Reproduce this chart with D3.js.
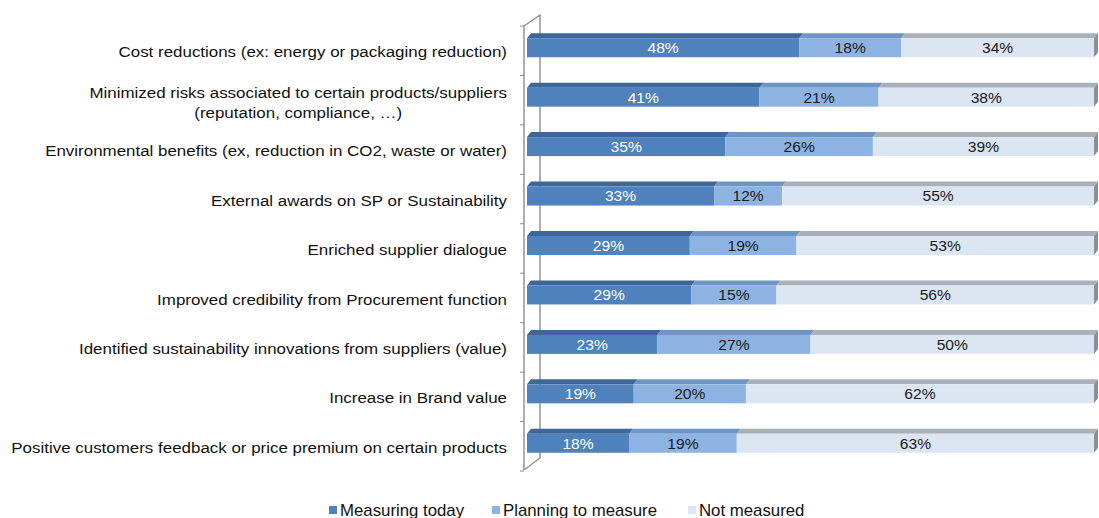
<!DOCTYPE html>
<html>
<head>
<meta charset="utf-8">
<script src="https://cdn.jsdelivr.net/npm/d3@7"></script>
<style>
  html, body { margin: 0; padding: 0; background: #fff; }
  svg { display: block; font-family: "Liberation Sans", Arial, sans-serif; }
</style>
</head>
<body>
<svg id="chart" width="1099" height="518"></svg>
<script>
// Survey results: how each benefit of sustainable procurement is measured
const categories = [
  "Cost reductions (ex: energy or packaging reduction)",
  "Minimized risks associated to certain products/suppliers\n(reputation, compliance, \u2026)",
  "Environmental benefits (ex, reduction in CO2, waste or water)",
  "External awards on SP or Sustainability",
  "Enriched supplier dialogue",
  "Improved credibility from Procurement function",
  "Identified sustainability innovations from suppliers (value)",
  "Increase in Brand value",
  "Positive customers feedback or price premium on certain products"
];
const seriesNames = ["Measuring today", "Planning to measure", "Not measured"];
const measuringToday    = [48, 41, 35, 33, 29, 29, 23, 19, 18];
const planningToMeasure = [18, 21, 26, 12, 19, 15, 27, 20, 19];
const notMeasured       = [34, 38, 39, 55, 53, 56, 50, 62, 63];

const frontColors = ["#4f81bd", "#8db3e2", "#dce6f2"];
const topColors   = ["#3d6699", "#6f95c4", "#a9b0b8"];
const textColors  = ["#ffffff", "#1a1a1a", "#1a1a1a"];
const sideColor   = "#8a9098";
const wallColor   = "#8c8c8c";

const svg = d3.select("#chart");

// 100% stacked layout (rows are normalised by their own total)
const rows = categories.map((c, i) => {
  const vals = [measuringToday[i], planningToMeasure[i], notMeasured[i]];
  const total = d3.sum(vals);
  let acc = 0;
  return {
    cat: c,
    segs: vals.map((v, k) => {
      const s = { k, v, x0: acc / total, x1: (acc + v) / total };
      acc += v;
      return s;
    })
  };
});

const x = d3.scaleLinear().domain([0, 1]).range([527, 1094]);
const y = d3.scaleBand().domain(categories).range([25, 470]);

const depthX = 4, depthY = 5, barH = 19, barShift = -2;
const wallFront = 524, wallBack = 540;

// Left wall of the 3D plot area
const wall = svg.append("g").attr("stroke", wallColor).attr("stroke-width", 1.4).attr("fill", "none");
wall.append("path").attr("d", `M${wallFront},470 L${wallFront},26 L${wallBack},15 L${wallBack},458 L${wallFront},470`);
const tickYs = d3.range(categories.length + 1).map(i => y.range()[0] + i * y.step());
wall.selectAll("line.tick").data(tickYs).join("line")
  .attr("class", "tick")
  .attr("x1", wallFront - 4).attr("x2", wallFront)
  .attr("y1", d => d + 1).attr("y2", d => d + 1)
  .attr("stroke-width", 1);

// Bars
const barG = svg.append("g");
rows.forEach(r => {
  const cy = y(r.cat) + y.bandwidth() / 2 + barShift;
  const top = cy - barH / 2, bot = cy + barH / 2;
  const g = barG.append("g");
  g.selectAll("path.top").data(r.segs).join("path")
    .attr("class", "top")
    .attr("fill", d => topColors[d.k])
    .attr("d", d => `M${x(d.x0)},${top} L${x(d.x0) + depthX},${top - depthY} L${x(d.x1) + depthX},${top - depthY} L${x(d.x1)},${top} Z`);
  g.selectAll("rect.front").data(r.segs).join("rect")
    .attr("class", "front")
    .attr("x", d => x(d.x0)).attr("y", top)
    .attr("width", d => x(d.x1) - x(d.x0)).attr("height", barH)
    .attr("fill", d => frontColors[d.k]);
  const xr = x(1);
  g.append("path")
    .attr("fill", sideColor)
    .attr("d", `M${xr},${top} L${xr + depthX},${top - depthY} L${xr + depthX},${bot - depthY} L${xr},${bot} Z`);
  g.selectAll("text.val").data(r.segs).join("text")
    .attr("class", "val")
    .attr("transform", d => `translate(${(x(d.x0) + x(d.x1)) / 2},${cy}) scale(1.04,1)`)
    .attr("text-anchor", "middle")
    .attr("dy", "0.36em")
    .attr("font-size", 15)
    .attr("fill", d => textColors[d.k])
    .text(d => d.v + "%");
});

// Category labels
const labelX = 507, labelScale = 1.093;
const labelG = svg.append("g").attr("font-size", 15.5).attr("fill", "#111");
categories.forEach(c => {
  const cy = y(c) + y.bandwidth() / 2 + 2;
  const lines = c.split("\n");
  if (lines.length === 1) {
    labelG.append("text")
      .attr("transform", `translate(${labelX},${cy}) scale(${labelScale},1)`)
      .attr("text-anchor", "end").attr("dy", "0.36em")
      .text(lines[0]);
  } else {
    const first = labelG.append("text")
      .attr("transform", `translate(${labelX},${cy - 8.5}) scale(${labelScale},1)`)
      .attr("text-anchor", "end").attr("dy", "0.36em")
      .text(lines[0]);
    // second line centred under the first
    const w = first.node().getComputedTextLength() * labelScale;
    labelG.append("text")
      .attr("transform", `translate(${labelX - w / 2},${cy + 11}) scale(${labelScale},1)`)
      .attr("text-anchor", "middle").attr("dy", "0.36em")
      .text(lines[1]);
  }
});

// Legend
const legendX = [329, 492, 688];
const legend = svg.append("g").attr("font-size", 16).attr("fill", "#111");
seriesNames.forEach((name, i) => {
  legend.append("rect")
    .attr("x", legendX[i]).attr("y", 506).attr("width", 8).attr("height", 8)
    .attr("fill", frontColors[i]);
  legend.append("text")
    .attr("transform", `translate(${legendX[i] + 11},510) scale(1.05,1)`)
    .attr("dy", "0.36em")
    .text(name);
});
</script>
</body>
</html>
